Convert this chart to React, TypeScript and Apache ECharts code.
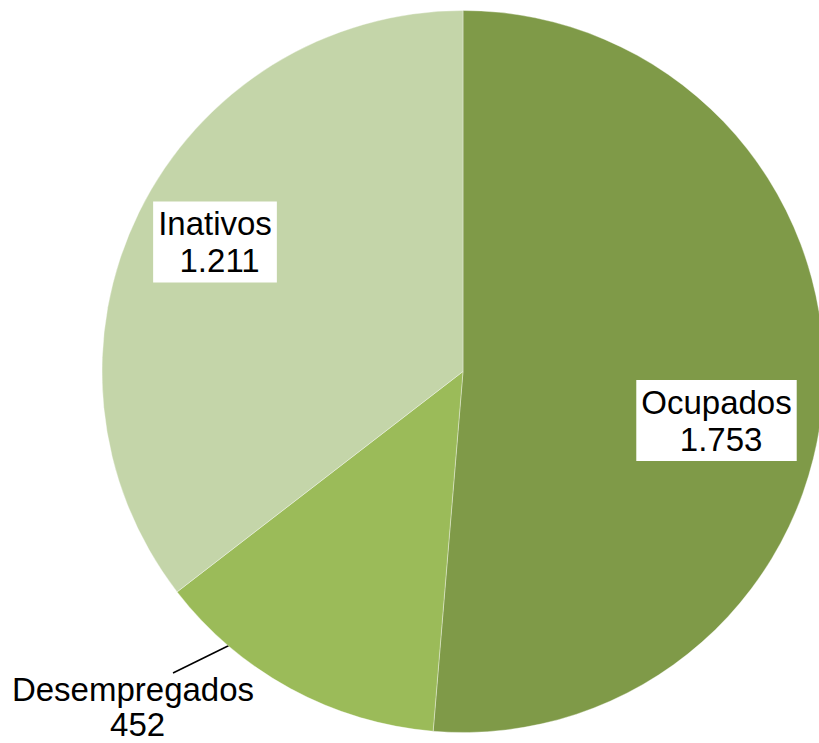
import React, { useEffect, useRef } from "react";
import * as echarts from "echarts";

const categories = ["Ocupados", "Desempregados", "Inativos"];
const values = [1753, 452, 1211];
const colors = ["#7F9A48", "#9BBB59", "#C4D5A9"];

const fmt = (v: number) => String(v).replace(/\B(?=(\d{3})+(?!\d))/g, ".");

export default function App() {
  const ref = useRef<HTMLDivElement>(null);
  useEffect(() => {
    if (!ref.current) return;
    const chart = echarts.init(ref.current, undefined, { renderer: "svg" });
    const labelPos: Record<string, { x: number; y: number }> = {
      Ocupados: { x: 716.5, y: 420.5 },
      Desempregados: { x: 133, y: 707 },
      Inativos: { x: 215, y: 242 },
    };
    const boxed = {
      backgroundColor: "#ffffff",
      padding: [4, 5, 3, 5],
    };
    chart.setOption({
      animation: false,
      backgroundColor: "#ffffff",
      series: [
        {
          type: "pie",
          center: [463, 371.5],
          radius: 361,
          startAngle: 90,
          clockwise: true,
          avoidLabelOverlap: false,
          itemStyle: { borderColor: "rgba(255,255,255,0.6)", borderWidth: 0.6 },
          label: {
            show: true,
            position: "outside",
            formatter: (p: any) => `${p.name}\n ${fmt(p.value)}`,
            fontFamily: "'Liberation Sans', Arial, sans-serif",
            fontSize: 33,
            lineHeight: 37,
            color: "#000000",
            align: "center",
          },
          labelLine: { show: false },
          labelLayout: (params: any) => {
            const name = categories[params.dataIndex];
            const pos = labelPos[name];
            const out: any = {
              x: pos.x,
              y: pos.y,
              align: "center",
              verticalAlign: "middle",
            };
            if (name === "Desempregados") {
              out.labelLinePoints = [
                [234, 643],
                [173, 673],
                [173, 673],
              ];
            }
            return out;
          },
          data: categories.map((c, i) => ({
            name: c,
            value: values[i],
            itemStyle: { color: colors[i] },
            label: c === "Desempregados" ? { lineHeight: 35 } : boxed,
            labelLine:
              c === "Desempregados"
                ? { show: true, length: 10, length2: 10, lineStyle: { color: "#000000", width: 1.5 } }
                : { show: false },
          })),
        },
      ],
    });
    return () => chart.dispose();
  }, []);
  return (
    <div
      ref={ref}
      style={{ position: "fixed", left: 0, top: 0, width: 819, height: 743 }}
    />
  );
}
